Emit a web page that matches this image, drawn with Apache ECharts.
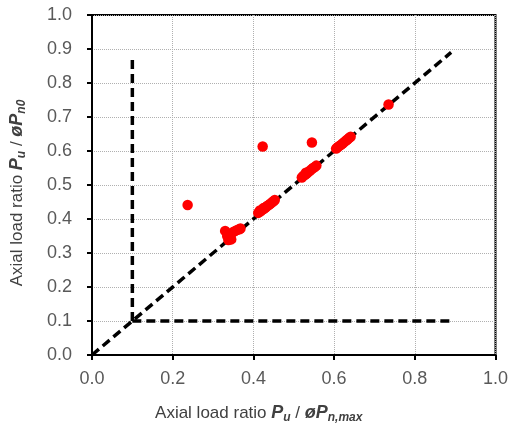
<!DOCTYPE html>
<html>
<head>
<meta charset="utf-8">
<script src="https://cdn.jsdelivr.net/npm/echarts@6/dist/echarts.min.js"></script>
<style>
  html, body { margin: 0; padding: 0; background: #fff; }
  #chart { width: 511px; height: 429px; }
</style>
</head>
<body>
<div id="chart"></div>
<script>
// axial load ratio pairs [Pu/øPn,max , Pu/øPn0]
var clusterA = [[0.330, 0.365], [0.335, 0.350], [0.338, 0.338], [0.342, 0.345], [0.345, 0.340],
  [0.340, 0.355], [0.350, 0.362], [0.355, 0.365], [0.360, 0.368], [0.365, 0.370], [0.368, 0.372]];
var clusterB = [[0.412, 0.418], [0.416, 0.425], [0.418, 0.423], [0.422, 0.427], [0.425, 0.432],
  [0.426, 0.430], [0.430, 0.434], [0.434, 0.438], [0.438, 0.441], [0.442, 0.445], [0.446, 0.449],
  [0.450, 0.452], [0.453, 0.456]];
var clusterC = [[0.520, 0.522], [0.524, 0.527], [0.528, 0.530], [0.530, 0.536], [0.532, 0.534],
  [0.536, 0.538], [0.540, 0.542], [0.544, 0.546], [0.548, 0.550], [0.552, 0.553], [0.556, 0.557]];
var clusterD = [[0.605, 0.607], [0.609, 0.611], [0.613, 0.615], [0.617, 0.618], [0.621, 0.622],
  [0.625, 0.626], [0.629, 0.630], [0.633, 0.634], [0.637, 0.638], [0.641, 0.642]];
var outliers = [[0.237, 0.441], [0.423, 0.613], [0.545, 0.625], [0.735, 0.737]];

// reference lines
var diagLine = [[0, 0], [0.89, 0.89]];
var vertLine = [[0.1, 0.1], [0.1, 0.87]];
var horizLine = [[0.1, 0.1], [0.89, 0.1]];

var points = clusterA.concat(clusterB, clusterC, clusterD, outliers);

var chart = echarts.init(document.getElementById('chart'));

var labelFont = 'Liberation Sans, Arial, sans-serif';
var rich = {
  t: { fontSize: 17, color: '#404040', fontFamily: labelFont },
  b: { fontSize: 18, color: '#404040', fontFamily: labelFont, fontWeight: 'bold', fontStyle: 'italic' },
  s: { fontSize: 12, color: '#404040', fontFamily: labelFont, fontWeight: 'bold', fontStyle: 'italic', padding: [9, 0, 0, 0] }
};

function refLine(data) {
  return {
    type: 'line',
    data: data,
    symbol: 'none',
    silent: true,
    animation: false,
    z: 2,
    lineStyle: { color: '#000', width: 3.5, type: [9, 5] }
  };
}

var tickLabel = {
  color: '#595959', fontSize: 18, fontFamily: labelFont,
  formatter: function (v) { return v.toFixed(1); }
};

var option = {
  backgroundColor: '#fff',
  grid: {
    left: 92, right: 13, top: 15, bottom: 68,
    show: true, borderColor: '#000', borderWidth: 2
  },
  xAxis: {
    type: 'value', min: 0, max: 1, interval: 0.2,
    name: '{t|Axial load ratio }{b|P}{s|u}{t| / }{b|øP}{s|n,max}',
    nameLocation: 'middle', nameGap: 48,
    nameTextStyle: { rich: rich, padding: [0, 70, 0, 0] },
    axisLine: { lineStyle: { color: '#000', width: 2 } },
    axisTick: { show: true, length: 5, lineStyle: { color: '#000', width: 2 } },
    axisLabel: Object.assign({ margin: 15 }, tickLabel),
    splitLine: { show: true, lineStyle: { color: '#b0b0b0', type: 'dotted', width: 1 } }
  },
  yAxis: {
    type: 'value', min: 0, max: 1, interval: 0.1,
    name: '{t|Axial load ratio }{b|P}{s|u}{t| / }{b|øP}{s|n0}',
    nameLocation: 'middle', nameGap: 64, nameRotate: 90,
    nameTextStyle: { rich: rich, padding: [0, 16, 0, 0] },
    axisLine: { lineStyle: { color: '#000', width: 2 } },
    axisTick: { show: true, length: 5, lineStyle: { color: '#000', width: 2 } },
    axisLabel: Object.assign({ margin: 20 }, tickLabel),
    splitLine: { show: true, lineStyle: { color: '#b0b0b0', type: 'dotted', width: 1 } }
  },
  series: [
    refLine(diagLine),
    refLine(vertLine),
    refLine(horizLine),
    {
      type: 'scatter',
      data: points,
      symbolSize: 10.5,
      z: 3,
      animation: false,
      itemStyle: { color: '#ff0000', opacity: 1 }
    }
  ]
};

chart.setOption(option);
window.addEventListener('resize', function () { chart.resize(); });
</script>
</body>
</html>
